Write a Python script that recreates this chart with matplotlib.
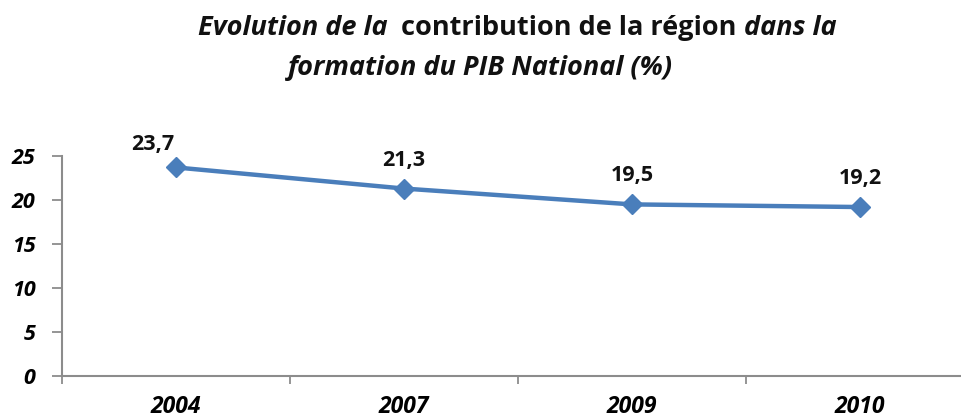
import matplotlib.pyplot as plt
import numpy as np

years = ['2004', '2007', '2009', '2010']
contribution = [23.7, 21.3, 19.5, 19.2]
value_labels = ['23,7', '21,3', '19,5', '19,2']
y_ticks = [0, 5, 10, 15, 20, 25]

plt.rcParams['font.family'] = ['Open Sans', 'DejaVu Sans']

W, H = 962, 419
fig = plt.figure(figsize=(W / 100, H / 100), dpi=100)
ax = fig.add_axes([62 / W, (H - 376) / H, 912 / W, 220 / H])

x = np.arange(len(years))
ax.plot(x, contribution, color='#4A7EBB', lw=3.2, marker='D', markersize=10,
        markerfacecolor='#4A7EBB', markeredgecolor='#4A7EBB', zorder=3)

# data labels (first one sits up and to the left, as in the original)
offsets = [(-17, 9), (0, 13), (0, 13), (0, 13)]
for xi, yi, lab, off in zip(x, contribution, value_labels, offsets):
    ax.annotate(lab, (xi, yi), xytext=off, textcoords='offset points',
                ha='center', va='bottom', fontsize=15.5, fontweight='bold',
                color='#111111')

ax.set_xlim(-0.5, 3.5)
ax.set_ylim(0, 25)
ax.set_yticks(y_ticks)
ax.set_yticklabels([str(v) for v in y_ticks], fontsize=15.5, fontweight='bold',
                   fontstyle='italic')
ax.set_xticks(x)
ax.set_xticklabels(years, fontsize=16.5, fontweight='bold', fontstyle='italic')
ax.set_xticks(np.arange(-0.5, 3.5, 1), minor=True)
ax.tick_params(axis='x', which='major', length=0, pad=14)
ax.tick_params(axis='x', which='minor', length=6, width=1.3, color='#8c8c8c')
ax.tick_params(axis='y', length=7, width=1.3, color='#8c8c8c', pad=12)

for side in ['top', 'right']:
    ax.spines[side].set_visible(False)
for side in ['left', 'bottom']:
    ax.spines[side].set_color('#8c8c8c')
    ax.spines[side].set_linewidth(1.5)

# title with mixed styles, line 1 centred around x=517 px
title_pieces = [('Evolution de la  ', 'italic'),
                ('contribution de la région ', 'normal'),
                ('dans la', 'italic')]
renderer = fig.canvas.get_renderer()
texts = []
for txt, style in title_pieces:
    t = fig.text(0, 1 - 28 / H, txt, fontsize=19.5, fontweight='bold',
                 fontstyle=style, va='center', ha='left', color='#111111')
    texts.append(t)
widths = [t.get_window_extent(renderer=renderer).width for t in texts]
xpos = 517 - sum(widths) / 2
for t, w in zip(texts, widths):
    t.set_x(xpos / W)
    xpos += w
fig.text(480 / W, 1 - 68 / H, 'formation du PIB National (%)', fontsize=19.5,
         fontweight='bold', fontstyle='italic', va='center', ha='center',
         color='#111111')

fig.savefig('out.png', dpi=100)
